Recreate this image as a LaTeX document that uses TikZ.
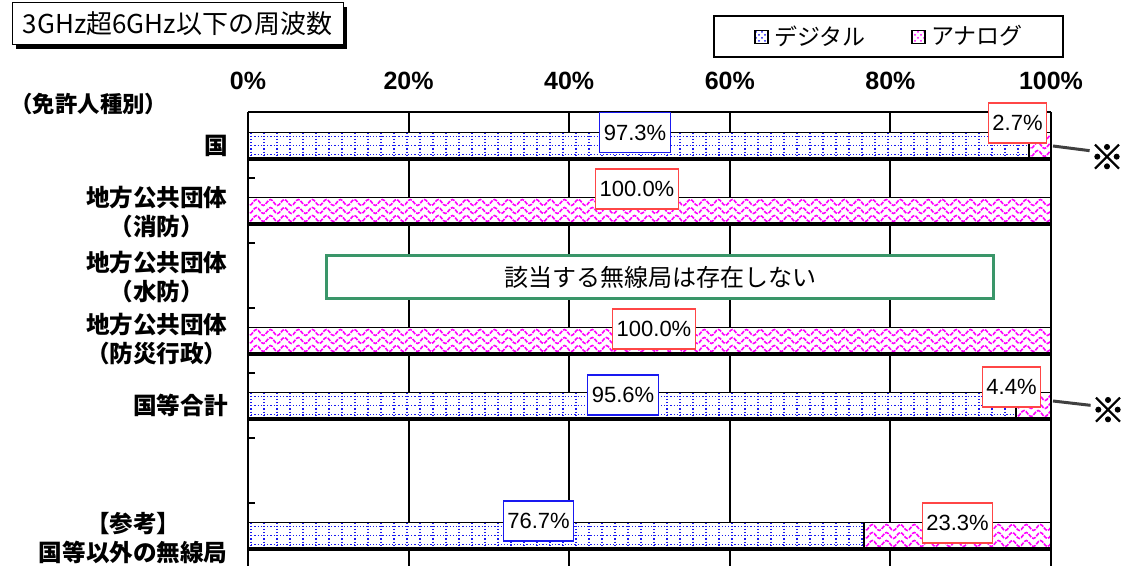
\documentclass[tikz,border=0pt]{standalone}
\usepackage{fontspec}
\setmainfont{Liberation Sans}
\newfontfamily\jp{Noto Sans CJK JP}
\newfontfamily\kometype[FakeBold=2.5]{Noto Sans CJK JP}
\usetikzlibrary{decorations.pathmorphing,patterns}

\definecolor{digiblue}{RGB}{25,25,240}
\definecolor{anamag}{RGB}{255,0,255}
\definecolor{boxgreen}{RGB}{58,150,105}
\definecolor{tagred}{RGB}{255,70,70}

\tikzset{
  gridline/.style={line width=1pt, black},
  tag/.style={draw, fill=white, line width=0.6pt, inner xsep=2pt, inner ysep=0pt,
    minimum height=20pt, font=\fontsize{11}{12}\selectfont},
  digitag/.style={tag, draw=digiblue},
  anatag/.style={tag, draw=tagred},
  cat/.style={font=\jp\bfseries\fontsize{11.8}{14.5}\selectfont, align=center, anchor=east, inner sep=0pt},
  pct/.style={font=\bfseries\fontsize{12.5}{13}\selectfont},
  kome/.style={font=\kometype\fontsize{17}{17}\selectfont, inner sep=0pt},
  komeline/.style={line width=1.5pt, black!75},
}

% blue dotted grid between x #1..#2, y #3..#4
\newcommand{\digifill}[4]{%
  \begin{scope}
    \clip (#1,#3) rectangle (#2,#4);
    \fill[white] (#1,#3) rectangle (#2,#4);
    \foreach \i in {0,...,80}
      \draw[digiblue, densely dotted, line width=0.6pt] (#1+3+13*\i,#3) -- (#1+3+13*\i,#4);
    \foreach \dy in {4,13,22}
      \draw[digiblue, densely dotted, line width=0.6pt] (#1,#3+\dy) -- (#2,#3+\dy);
  \end{scope}}

% magenta waves between x #1..#2, y #3..#4
\newcommand{\anafill}[4]{%
  \begin{scope}
    \clip (#1,#3) rectangle (#2,#4);
    \fill[white] (#1,#3) rectangle (#2,#4);
    \foreach \dy in {5,13,21}
      \draw[anamag, line width=0.8pt, dash pattern=on 2pt off 0.6pt,
        decorate, decoration={snake, amplitude=1.5pt, segment length=7pt}]
        (#1-10,#3+\dy) -- (#2+20,#3+\dy);
  \end{scope}}

\begin{document}
\begin{tikzpicture}[x=0.5pt, y=-0.5pt]
  \useasboundingbox (0,0) rectangle (1126,566);

  % Title and legend
  \fill[black] (16,7) rectangle (347,49);
  \node[draw, fill=white, line width=0.5pt, minimum width=165.5pt, minimum height=21pt,
    inner sep=0pt, font=\jp\fontsize{13}{13}\selectfont] (title) at (177.5,24) {3GHz超6GHz以下の周波数};
  \node[draw, line width=0.6pt, minimum width=174.5pt, minimum height=20.5pt] (legend) at (888.5,36.5) {};
  \node[draw, line width=0.6pt, minimum size=6.5pt, inner sep=0pt, pattern=crosshatch dots,
    pattern color=digiblue] (keydigi) at (761.5,37) {};
  \node[anchor=west, font=\jp\fontsize{11.5}{12}\selectfont, inner sep=0pt] (txtdigi) at (774,36) {デジタル};
  \node[draw, line width=0.6pt, minimum size=6.5pt, inner sep=0pt, pattern=crosshatch dots,
    pattern color=anamag] (keyana) at (918.5,37) {};
  \node[anchor=west, font=\jp\fontsize{11.5}{12}\selectfont, inner sep=0pt] (txtana) at (931,36) {アナログ};

  % Axis labels
  \node[pct] (p0) at (248,81) {0\%};
  \node[pct] (p20) at (408.6,81) {20\%};
  \node[pct] (p40) at (569.2,81) {40\%};
  \node[pct] (p60) at (729.8,81) {60\%};
  \node[pct] (p80) at (890.4,81) {80\%};
  \node[pct] (p100) at (1051,81) {100\%};

  % Grid
  \foreach \gx in {408.6,569.2,729.8,890.4,1051}
    \draw[gridline] (\gx,112) -- (\gx,570);
  \draw[gridline] (248,112) -- (1051,112);
  \draw[gridline] (248,112) -- (248,570);
  \foreach \ty in {178,243,308,373,438,503}
    \draw[line width=1pt] (248,\ty) -- (255,\ty);

  % Bars
  \digifill{248}{1029.3}{132.5}{158.5}
  \anafill{1029.3}{1051}{132.5}{158.5}
  \anafill{248}{1051}{197.5}{223.5}
  \anafill{248}{1051}{327.5}{353.5}
  \digifill{248}{1015.7}{392.5}{418.5}
  \anafill{1015.7}{1051}{392.5}{418.5}
  \digifill{248}{864}{522.5}{548.5}
  \anafill{864}{1051}{522.5}{548.5}
  \foreach \top/\split in {132.5/1029.3, 197.5/248, 327.5/248, 392.5/1015.7, 522.5/864} {
    \draw[line width=0.9pt] (248,\top) rectangle (1051,\top+26);
    \draw[line width=0.9pt] (\split,\top) -- (\split,\top+26);
    \draw[line width=2pt] (248,\top+27) -- (1052,\top+27);
  }

  % No station box
  \node[draw=boxgreen, line width=1.5pt, fill=white, minimum width=333.5pt, minimum height=21.5pt,
    inner sep=0pt, font=\jp\fontsize{12}{12}\selectfont] (none) at (660,277.5) {該当する無線局は存在しない};

  % Value tags
  \node[digitag] (kunidigi) at (635,132.5) {97.3\%};
  \node[anatag] (kuniana) at (1017.5,123) {2.7\%};
  \node[anatag] (shoboana) at (637,189) {100.0\%};
  \node[anatag] (bosaiana) at (654,329) {100.0\%};
  \node[digitag] (totaldigi) at (623,395) {95.6\%};
  \node[anatag] (totalana) at (1011.5,387) {4.4\%};
  \node[digitag] (otherdigi) at (538.5,521) {76.7\%};
  \node[anatag] (otherana) at (957.5,523) {23.3\%};

  % Notes
  \coordinate (kuniend) at (1053,146);
  \coordinate (totalend) at (1053,401);
  \node[kome] (kome1) at (1107,157) {※};
  \node[kome] (kome2) at (1108,410) {※};
  \draw[komeline] (kuniend) -- (kome1.160);
  \draw[komeline] (totalend) -- (kome2.165);

  % Categories
  \node[anchor=west, inner sep=0pt, font=\jp\bfseries\fontsize{11.2}{12}\selectfont] (head) at (10,104) {（免許人種別）};
  \node[cat] (kuni) at (228,145.5) {国};
  \node[cat] (shobo) at (228,212) {地方公共団体\\（消防）};
  \node[cat] (suibo) at (228,277) {地方公共団体\\（水防）};
  \node[cat] (bosai) at (228,339) {地方公共団体\\（防災行政）};
  \node[cat] (total) at (228,405.5) {国等合計};
  \node[cat] (other) at (228,538) {【参考】\\国等以外の無線局};
\end{tikzpicture}
\end{document}
